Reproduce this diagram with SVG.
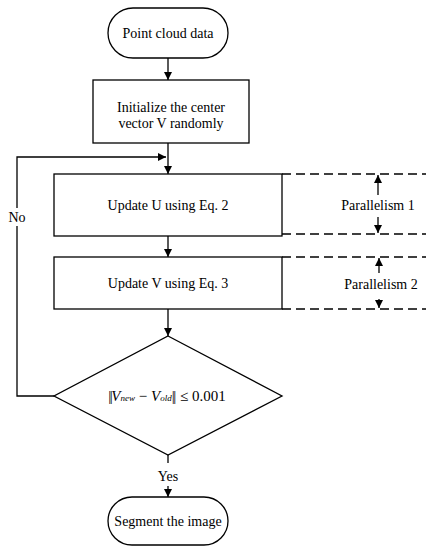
<svg xmlns="http://www.w3.org/2000/svg" width="426" height="546" viewBox="0 0 426 546">
<defs>
<marker id="ah" viewBox="0 0 10 10" refX="10" refY="5" markerWidth="8" markerHeight="8" markerUnits="userSpaceOnUse" orient="auto">
<path d="M0,0 L10,5 L0,10 z" fill="#000"/>
</marker>
</defs>
<style>
.s{fill:#fff;stroke:#000;stroke-width:1.3}
.t{font-family:"Liberation Serif","Times New Roman",serif;font-size:14px;fill:#000;text-anchor:middle}
.c{fill:none;stroke:#000;stroke-width:1.3}
.a{fill:none;stroke:#000;stroke-width:1.3;marker-end:url(#ah)}
.d{fill:none;stroke:#000;stroke-width:1.3;stroke-dasharray:9,5}
</style>
<rect width="426" height="546" fill="#fff"/>
<g id="connectors">
<line class="a" x1="168" y1="58" x2="168" y2="80"/>
<line class="a" x1="168" y1="143" x2="168" y2="174"/>
<line class="a" x1="168" y1="236" x2="168" y2="257"/>
<line class="a" x1="168" y1="309" x2="168" y2="336"/>
<polyline class="c" points="54,396 17,396 17,226"/>
<polyline class="a" points="17,208 17,157 166,157"/>
<line class="c" x1="168" y1="455" x2="168" y2="463"/>
<line class="a" x1="168" y1="486" x2="168" y2="497"/>
<text class="t" x="17" y="222">No</text>
<text class="t" x="168" y="481">Yes</text>
</g>
<g id="parallelism">
<line class="d" x1="282" y1="174" x2="426" y2="174"/>
<line class="d" x1="282" y1="234" x2="426" y2="234"/>
<line class="d" x1="282" y1="257" x2="426" y2="257"/>
<line class="d" x1="282" y1="309" x2="426" y2="309"/>
<line class="a" x1="378" y1="195" x2="378" y2="175"/>
<line class="a" x1="378" y1="217" x2="378" y2="233"/>
<line class="a" x1="379" y1="273" x2="379" y2="258"/>
<line class="a" x1="379" y1="299" x2="379" y2="308"/>
<text class="t" x="378" y="210">Parallelism 1</text>
<text class="t" x="381" y="289">Parallelism 2</text>
</g>
<g id="start">
<rect class="s" x="108" y="8" width="120" height="50" rx="25"/>
<text class="t" x="168" y="38">Point cloud data</text>
</g>
<g id="init">
<rect class="s" x="93" y="80" width="156" height="63"/>
<text class="t" x="171" y="112">Initialize the center</text>
<text class="t" x="171" y="128">vector V randomly</text>
</g>
<g id="updateU">
<rect class="s" x="54" y="174" width="228" height="62"/>
<text class="t" x="168" y="210">Update U using Eq. 2</text>
</g>
<g id="updateV">
<rect class="s" x="54" y="257" width="228" height="52"/>
<text class="t" x="168" y="288">Update V using Eq. 3</text>
</g>
<g id="decision">
<polygon class="s" points="168,336 282,396 168,455 54,396"/>
<text class="t" x="167" y="401" style="font-size:15px"><tspan letter-spacing="-1.5">||</tspan><tspan font-style="italic">V</tspan><tspan font-style="italic" font-size="9">new</tspan> − <tspan font-style="italic">V</tspan><tspan font-style="italic" font-size="9">old</tspan><tspan letter-spacing="-1.5">|</tspan>| ≤ 0.001</text>
</g>
<g id="end">
<rect class="s" x="108" y="497" width="120" height="48" rx="24"/>
<text class="t" x="168" y="526">Segment the image</text>
</g>
</svg>
